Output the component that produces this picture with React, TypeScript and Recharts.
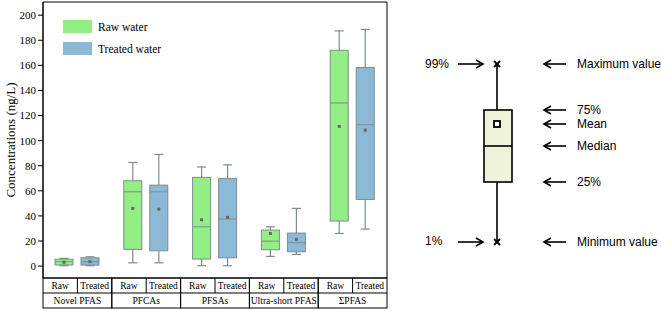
import {
  ComposedChart,
  Bar,
  XAxis,
  YAxis,
  Legend,
  ReferenceArea,
} from "recharts";

const categories = ["Novel PFAS", "PFCAs", "PFSAs", "Ultra-short PFAS", "ΣPFAS"];
const yTicks = [0, 20, 40, 60, 80, 100, 120, 140, 160, 180, 200];

const rawMin = [0.3, 2.6, 0.3, 7.7, 26];
const rawQ1 = [0.9, 13.3, 5.6, 13, 35.9];
const rawMedian = [3.5, 59.2, 31.3, 19.9, 130];
const rawQ3 = [5.5, 68, 70.7, 28.7, 172];
const rawMax = [6.2, 82.6, 79, 31.3, 187.5];
const rawMean = [3, 46, 36.9, 26, 111.3];

const treatedMin = [0.3, 2.6, 0.3, 9.3, 29.5];
const treatedQ1 = [0.8, 12.2, 6.6, 11.4, 53.1];
const treatedMedian = [3.5, 59.2, 37.5, 18.6, 112.6];
const treatedQ3 = [6.6, 64.5, 69.9, 26.3, 158.3];
const treatedMax = [7.4, 89, 80.7, 46, 188.6];
const treatedMean = [3.5, 45.4, 38.8, 21.3, 108.4];

const data = categories.map((name, i) => ({
  name,
  raw: { min: rawMin[i], q1: rawQ1[i], median: rawMedian[i], q3: rawQ3[i], max: rawMax[i], mean: rawMean[i] },
  treated: {
    min: treatedMin[i],
    q1: treatedQ1[i],
    median: treatedMedian[i],
    q3: treatedQ3[i],
    max: treatedMax[i],
    mean: treatedMean[i],
  },
}));

const CHART_W = 661;
const CHART_H = 311;
const MARGIN = { top: 2, right: 274, left: 0, bottom: 3 };
const YAXIS_W = 43;
const BAND = (CHART_W - MARGIN.left - MARGIN.right - YAXIS_W) / categories.length;

const GREEN = "#93ef83";
const BLUE = "#8cb9d6";
const EDGE = "#7d8d8d";
const SERIF = "'Liberation Serif', 'Times New Roman', serif";

// draws one box + whiskers; bar spans min..max so values map linearly inside it
const makeBoxShape = (key: "raw" | "treated", fill: string) => (props: any) => {
  const { x, y, width, height, payload } = props;
  const s = payload[key];
  const top = Math.min(y, y + height);
  const bottom = Math.max(y, y + height);
  const py = (v: number) => bottom - ((v - s.min) / (s.max - s.min)) * (bottom - top);
  const cx = x + width / 2;
  const cap = 4.5;
  return (
    <g>
      <line x1={cx} x2={cx} y1={py(s.max)} y2={py(s.q3)} stroke={EDGE} strokeWidth={1.2} />
      <line x1={cx} x2={cx} y1={py(s.q1)} y2={py(s.min)} stroke={EDGE} strokeWidth={1.2} />
      <line x1={cx - cap} x2={cx + cap} y1={py(s.max)} y2={py(s.max)} stroke={EDGE} strokeWidth={1.2} />
      <line x1={cx - cap} x2={cx + cap} y1={py(s.min)} y2={py(s.min)} stroke={EDGE} strokeWidth={1.2} />
      <rect x={x} y={py(s.q3)} width={width} height={py(s.q1) - py(s.q3)} fill={fill} stroke={EDGE} strokeWidth={1} />
      <line x1={x} x2={x + width} y1={py(s.median)} y2={py(s.median)} stroke={EDGE} strokeWidth={1} />
      <rect x={cx - 1.5} y={py(s.mean) - 1.5} width={3} height={3} fill="#666" />
    </g>
  );
};

const TableTick = (props: any) => {
  const { x, y, payload } = props;
  const half = BAND / 2;
  return (
    <g fontFamily={SERIF} fontSize={9.5} fill="#000">
      <rect x={x - half} y={y} width={BAND} height={30} fill="none" stroke="#000" strokeWidth={1} />
      <line x1={x - half} x2={x + half} y1={y + 15} y2={y + 15} stroke="#000" />
      <line x1={x} x2={x} y1={y} y2={y + 15} stroke="#000" />
      <text x={x - half / 2} y={y + 11} textAnchor="middle">Raw</text>
      <text x={x + half / 2} y={y + 11} textAnchor="middle">Treated</text>
      <text x={x} y={y + 26} textAnchor="middle">{payload.value}</text>
    </g>
  );
};

const LegendBox = (props: any) => {
  const items = props.payload || [];
  return (
    <div style={{ fontFamily: SERIF, fontSize: 11.5 }}>
      {items.map((it: any) => (
        <div key={it.value} style={{ display: "flex", alignItems: "center", height: 13, marginBottom: 9 }}>
          <span style={{ width: 29, height: 13, background: it.color, display: "inline-block", marginRight: 6 }} />
          <span>{it.value}</span>
        </div>
      ))}
    </div>
  );
};

const YLabel = (props: any) => {
  const vb = props.viewBox;
  const cx = vb.x + 12;
  const cy = vb.y + vb.height / 2;
  return (
    <text
      x={cx}
      y={cy}
      transform={`rotate(-90, ${cx}, ${cy})`}
      textAnchor="middle"
      dominantBaseline="middle"
      fontFamily={SERIF}
      fontSize={13}
      fill="#000"
    >
      Concentrations (ng/L)
    </text>
  );
};

const Arrow = ({ x1, x2, y }: { x1: number; x2: number; y: number }) => {
  const d = x2 > x1 ? -1 : 1;
  return (
    <g stroke="#000" strokeWidth={1.6} fill="none">
      <line x1={x1} x2={x2} y1={y} y2={y} />
      <polyline points={`${x2 + d * 7},${y - 4} ${x2},${y} ${x2 + d * 7},${y + 4}`} />
    </g>
  );
};

const Cross = ({ x, y }: { x: number; y: number }) => (
  <g stroke="#000" strokeWidth={1.8}>
    <line x1={x - 3} x2={x + 3} y1={y - 3} y2={y + 3} />
    <line x1={x - 3} x2={x + 3} y1={y + 3} y2={y - 3} />
  </g>
);

const Schematic = () => {
  const cx = 497;
  const rows: [string, number][] = [
    ["Maximum value", 64],
    ["75%", 110],
    ["Mean", 124],
    ["Median", 146],
    ["25%", 182],
    ["Minimum value", 242],
  ];
  return (
    <svg width={CHART_W} height={CHART_H} style={{ position: "absolute", left: 0, top: 0 }}>
      <g fontFamily="'Liberation Sans', Arial, sans-serif" fontSize={12} fill="#000">
        <line x1={cx} x2={cx} y1={64} y2={242} stroke="#000" strokeWidth={1.6} />
        <rect x={484} y={110} width={28} height={72} fill="#eef3da" stroke="#000" strokeWidth={1.6} />
        <line x1={484} x2={512} y1={146} y2={146} stroke="#000" strokeWidth={1.6} />
        <rect x={cx - 3} y={121} width={6} height={6} fill="#fff" stroke="#000" strokeWidth={1.8} />
        <Cross x={cx} y={64} />
        <Cross x={cx} y={242} />
        <text x={425} y={68}>99%</text>
        <text x={425} y={245}>1%</text>
        <Arrow x1={458} x2={483} y={64} />
        <Arrow x1={458} x2={483} y={242} />
        {rows.map(([t, y]) => (
          <g key={t}>
            <Arrow x1={566} x2={544} y={y} />
            <text x={577} y={y + 4}>{t}</text>
          </g>
        ))}
      </g>
    </svg>
  );
};

export default function App() {
  return (
    <div style={{ position: "absolute", left: 0, top: 0, width: CHART_W, height: CHART_H, background: "#fff" }}>
      <ComposedChart
        width={CHART_W}
        height={CHART_H}
        data={data}
        margin={MARGIN}
        barSize={18}
        barGap={8}
        style={{ fontFamily: SERIF }}
      >
        <XAxis
          dataKey="name"
          axisLine={false}
          tickLine={false}
          tickSize={0}
          tickMargin={0}
          height={30}
          interval={0}
          tick={<TableTick />}
        />
        <YAxis
          width={YAXIS_W}
          domain={[-9.5, 210.5]}
          ticks={yTicks}
          allowDataOverflow
          tickSize={5}
          tickLine={{ stroke: "#000" }}
          axisLine={{ stroke: "#000" }}
          tick={{ fill: "#000", fontSize: 11, fontFamily: SERIF }}
          label={<YLabel />}
        />
        <ReferenceArea y1={-9.5} y2={210.5} fill="none" stroke="#000" strokeWidth={1} ifOverflow="visible" />
        <Legend
          layout="horizontal"
          verticalAlign="middle"
          align="center"
          wrapperStyle={{ left: 63, top: 20, width: 130 }}
          content={<LegendBox />}
        />
        <Bar
          name="Raw water"
          dataKey={(d: any) => [d.raw.min, d.raw.max]}
          fill={GREEN}
          isAnimationActive={false}
          shape={makeBoxShape("raw", GREEN)}
        />
        <Bar
          name="Treated water"
          dataKey={(d: any) => [d.treated.min, d.treated.max]}
          fill={BLUE}
          isAnimationActive={false}
          shape={makeBoxShape("treated", BLUE)}
        />
      </ComposedChart>
      <Schematic />
    </div>
  );
}
